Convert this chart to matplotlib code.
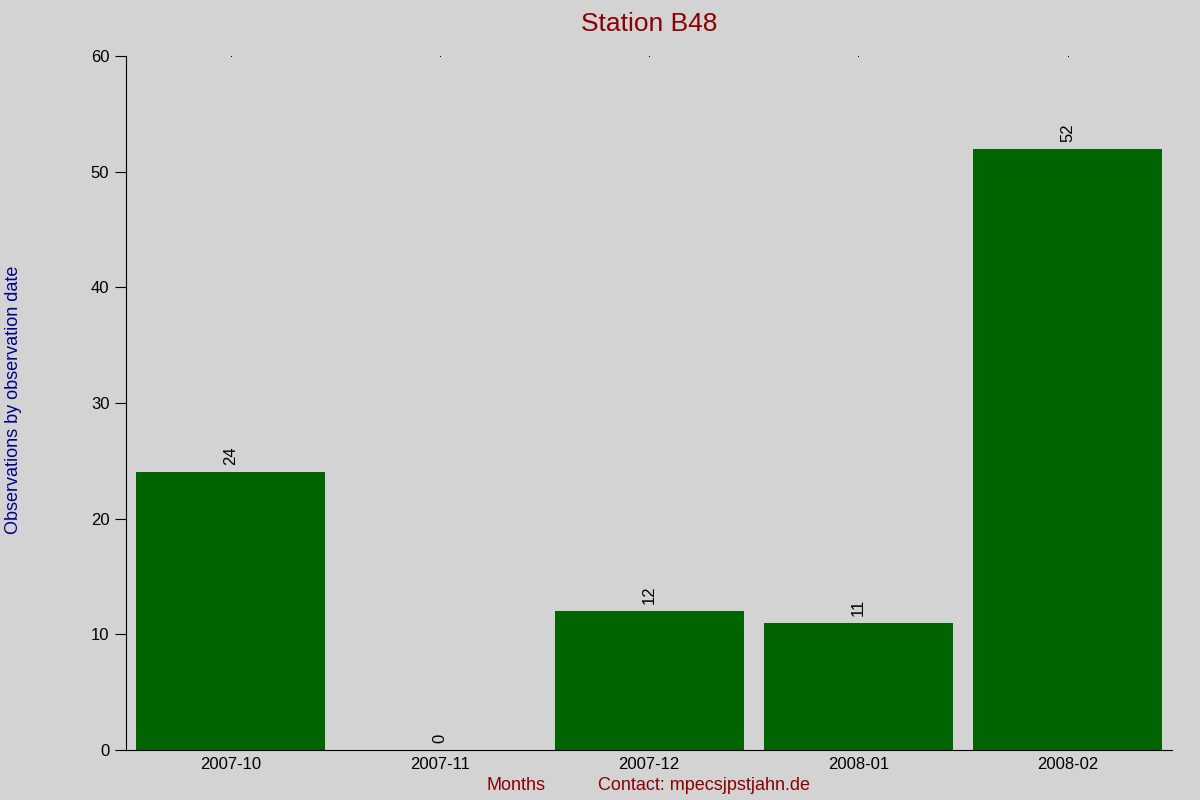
import numpy as np
import matplotlib
matplotlib.use("Agg")
import matplotlib.pyplot as plt

months = ["2007-10", "2007-11", "2007-12", "2008-01", "2008-02"]
counts = [24, 0, 12, 11, 52]

plt.rcParams['font.family'] = ['Liberation Sans', 'DejaVu Sans']

bg = "#d3d3d3"
fig = plt.figure(figsize=(12, 8), dpi=100, facecolor=bg)
ax = fig.add_axes([0.105, 0.0625, 0.872, 0.8675], facecolor=bg)

x = np.arange(len(months))
bars = ax.bar(x, counts, width=0.905, color="#006400")
for xi, v in zip(x, counts):
  ax.text(xi, v + 0.6, str(v), rotation=90, ha="center", va="bottom", fontsize=12)

ax.set_xlim(-0.5, len(months) - 0.5)
ax.set_ylim(0, 60)
ax.set_yticks(range(0, 61, 10))
ax.set_xticks(x)
ax.set_xticklabels(months)
ax.tick_params(axis="x", length=0, labelsize=12, pad=5)
ax.tick_params(axis="y", length=8, labelsize=12, pad=4)
for s in ["top", "right"]:
  ax.spines[s].set_visible(False)

# small marks along the top edge
ax.plot(x, [60] * len(x), linestyle="none", marker="s", markersize=0.7, markeredgewidth=0,
        color="black", clip_on=False)

fig.text(0.541, 0.985, "Station B48", ha="center", va="top", fontsize=19, color="#8b0000")
fig.text(0.011, 0.5, "Observations by observation date", rotation=90, ha="center", va="center",
         fontsize=13, color="#00008b")
fig.text(0.405, 0.0175, "Months", ha="left", va="center", fontsize=13, color="#8b0000")
fig.text(0.498, 0.0175, "Contact: mpecsjpstjahn.de", ha="left", va="center", fontsize=13, color="#8b0000")

fig.savefig("out.png", dpi=100, facecolor=bg)
